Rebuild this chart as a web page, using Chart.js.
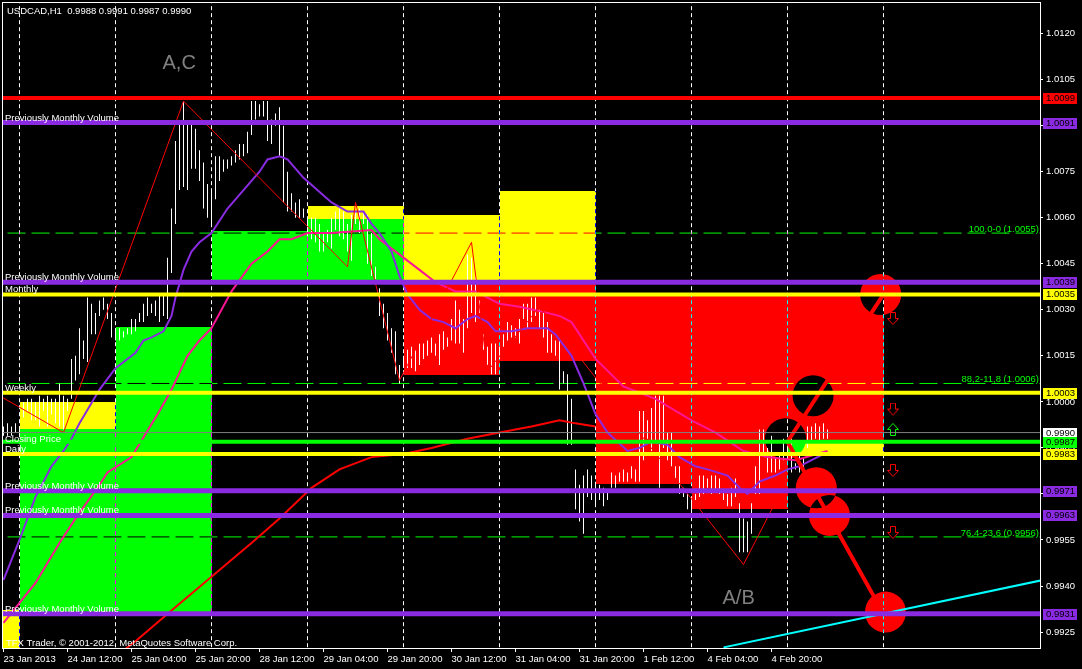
<!DOCTYPE html>
<html><head><meta charset="utf-8">
<script src="https://cdn.jsdelivr.net/npm/chart.js@4.4.1/dist/chart.umd.min.js"></script>
<style>html,body{margin:0;padding:0;background:#000;overflow:hidden}canvas{display:block}</style>
</head><body>
<canvas id="c" width="1082" height="669"></canvas>
<script>
// ---------- DATA ----------
const chartTitle = 'USDCAD,H1  0.9988 0.9991 0.9987 0.9990';
const copyrightText = 'TFX Trader, \u00A9 2001-2012, MetaQuotes Software Corp.';

const xTickIndex = [0,16,32,48,64,80,96,112,128,144,160,176,192];
const xTickLabels = ['23 Jan 2013','24 Jan 12:00','25 Jan 04:00','25 Jan 20:00','28 Jan 12:00','29 Jan 04:00','29 Jan 20:00','30 Jan 12:00','31 Jan 04:00','31 Jan 20:00','1 Feb 12:00','4 Feb 04:00','4 Feb 20:00'];
const yTickValues = [0.9925,0.9940,0.9955,0.9970,0.9985,1.0000,1.0015,1.0030,1.0045,1.0060,1.0075,1.0090,1.0105,1.0120];

// hourly bars (index 0 = 23 Jan 20:00)
const highs = [0.9992,0.9993,0.9992,0.9993,0.9992,1.0000,1.0001,1.0001,1.0000,1.0002,
1.0001,1.0002,1.0001,1.0001,1.0006,1.0002,1.0001,1.0014,1.0015,1.0024,
1.0020,1.0034,1.0032,1.0029,1.0033,1.0034,1.0032,1.0029,1.0024,1.0024,
1.0023,1.0024,1.0027,1.0027,1.0029,1.0032,1.0034,1.0032,1.0033,1.0035,
1.0035,1.0047,1.0063,1.0085,1.0091,1.0098,1.0091,1.0091,1.0089,1.0082,
1.0078,1.0071,1.0069,1.0080,1.0080,1.0079,1.0079,1.0080,1.0082,1.0084,
1.0084,1.0088,1.0098,1.0098,1.0097,1.0098,1.0098,1.0092,1.0094,1.0096,
1.0090,1.0075,1.0068,1.0065,1.0066,1.0063,1.0060,1.0060,1.0060,1.0058,
1.0055,1.0056,1.0060,1.0062,1.0063,1.0062,1.0058,1.0061,1.0062,1.0063,
1.0062,1.0061,1.0055,1.0044,1.0037,1.0032,1.0029,1.0024,1.0023,1.0012,
1.0015,1.0017,1.0018,1.0017,1.0019,1.0019,1.0020,1.0021,1.0019,1.0022,
1.0023,1.0021,1.0027,1.0033,1.0030,1.0027,1.0048,1.0047,1.0042,1.0033,
1.0022,1.0018,1.0019,1.0019,1.0018,1.0022,1.0026,1.0025,1.0024,1.0027,
1.0032,1.0032,1.0034,1.0034,1.0030,1.0029,1.0026,1.0022,1.0020,1.0020,
1.0010,1.0009,1.0001,0.9978,0.9973,0.9976,0.9978,0.9976,0.9974,0.9973,
0.9972,0.9971,0.9977,0.9976,0.9977,0.9978,0.9977,0.9979,0.9978,0.9997,
0.9997,0.9994,0.9998,1.0002,1.0002,1.0002,0.9990,0.9990,0.9979,0.9979,
0.9972,0.9970,0.9969,0.9970,0.9976,0.9976,0.9975,0.9976,0.9976,0.9975,
0.9971,0.9970,0.9972,0.9975,0.9967,0.9962,0.9961,0.9967,0.9979,0.9991,
0.9991,0.9985,0.9989,0.9982,0.9983,0.9988,0.9987,0.9989,0.9980,0.9983,
0.9982,0.9992,0.9992,0.9993,0.9992,0.9993,0.9991];
const lows = [0.9989,0.9989,0.9989,0.9990,0.9989,0.9995,0.9997,0.9994,0.9994,0.9992,
0.9997,0.9992,0.9996,0.9993,0.9992,0.9991,0.9997,1.0001,1.0007,1.0009,
1.0014,1.0013,1.0022,1.0022,1.0028,1.0030,1.0027,1.0021,1.0020,1.0020,
1.0021,1.0022,1.0022,1.0023,1.0026,1.0026,1.0028,1.0029,1.0028,1.0026,
1.0028,1.0027,1.0042,1.0058,1.0069,1.0070,1.0069,1.0076,1.0076,1.0072,
1.0063,1.0060,1.0057,1.0066,1.0072,1.0075,1.0076,1.0077,1.0078,1.0079,
1.0080,1.0081,1.0087,1.0092,1.0093,1.0093,1.0085,1.0084,1.0090,1.0080,
1.0065,1.0062,1.0062,1.0060,1.0060,1.0060,1.0054,1.0053,1.0052,1.0049,
1.0049,1.0052,1.0050,1.0056,1.0054,1.0053,1.0049,1.0046,1.0058,1.0055,
1.0058,1.0045,1.0041,1.0040,1.0028,1.0024,1.0020,1.0016,1.0009,1.0006,
1.0011,1.0011,1.0011,1.0010,1.0012,1.0014,1.0015,1.0016,1.0015,1.0012,
1.0017,1.0018,1.0020,1.0019,1.0019,1.0016,1.0024,1.0029,1.0026,1.0029,
1.0017,1.0012,1.0009,1.0009,1.0014,1.0018,1.0020,1.0021,1.0021,1.0019,
1.0027,1.0024,1.0026,1.0028,1.0024,1.0021,1.0016,1.0016,1.0015,1.0004,
1.0006,0.9986,0.9986,0.9965,0.9961,0.9957,0.9969,0.9968,0.9966,0.9968,
0.9966,0.9968,0.9972,0.9972,0.9974,0.9974,0.9974,0.9975,0.9974,0.9974,
0.9981,0.9988,0.9984,0.9987,0.9972,0.9985,0.9981,0.9979,0.9975,0.9970,
0.9969,0.9965,0.9964,0.9968,0.9969,0.9970,0.9972,0.9970,0.9971,0.9970,
0.9968,0.9966,0.9966,0.9969,0.9951,0.9951,0.9951,0.9957,0.9970,0.9970,
0.9983,0.9977,0.9977,0.9977,0.9978,0.9981,0.9981,0.9977,0.9978,0.9977,
0.9978,0.9985,0.9987,0.9988,0.9987,0.9988,0.9988];

// moving averages (bar index, value)
const maFastX = [0,4,8,10,12,15,17,19,24,28,33,35,37,40,42,43,45,47,49,52,56,60,64,66,69,71,75,82,86,90,92,94,97,99,101,104,107,110,113,116,118,121,123,127,131,136,138,142,145,148,151,156,159,162,166,169,173,176,181,184,186,189,193,196,199,202,205];
const maFastY = [0.9942,0.9955,0.9969,0.9974,0.9979,0.9984,0.9988,0.9993,1.0004,1.0011,1.0016,1.0020,1.0021,1.0023,1.0028,1.0034,1.0043,1.0049,1.0052,1.0055,1.0063,1.0069,1.0075,1.0079,1.0080,1.0079,1.0073,1.0065,1.0062,1.0062,1.0058,1.0055,1.0049,1.0041,1.0035,1.0030,1.0027,1.0026,1.0024,1.0027,1.0028,1.0026,1.0023,1.0023,1.0024,1.0024,1.0022,1.0015,1.0006,0.9996,0.9990,0.9984,0.9985,0.9987,0.9986,0.9982,0.9979,0.9978,0.9976,0.9972,0.9970,0.9974,0.9976,0.9978,0.9979,0.9981,0.9983];
const maSlowX = [0,8,14,18,24,26,32,39,42,46,49,52,57,62,66,69,72,76,82,92,94,100,104,108,113,118,121,124,129,136,139,142,148,155,163,172,178,185,191,198,206];
const maSlowY = [0.9928,0.9941,0.9954,0.9962,0.9973,0.9977,0.9982,0.9997,1.0004,1.0015,1.0020,1.0024,1.0036,1.0045,1.0049,1.0053,1.0053,1.0055,1.0055,1.0056,1.0053,1.0047,1.0043,1.0039,1.0036,1.0036,1.0034,1.0032,1.0031,1.0029,1.0028,1.0026,1.0014,1.0005,1.0001,0.9994,0.9990,0.9984,0.9982,0.9981,0.9984];
const maLongX = [30,33,42,52,62,69,77,84,92,100,107,116,124,132,139,143,148];
const maLongY = [0.9919,0.9922,0.9932,0.9943,0.9954,0.9962,0.9972,0.9978,0.9982,0.9983,0.9985,0.9988,0.9990,0.9992,0.9994,0.9993,0.9992];

// zigzag
const zigzagX = [-1,15,45,86,88,99,117,121,134,185,196];
const zigzagY = [1.0002,0.9990,1.0098,1.0044,1.0065,1.0007,1.0052,1.0010,1.0031,0.9947,0.9975];

// projection (thick red) and trend (cyan)
const projX = [220,196,220];
const projY = [1.0035,0.9987,0.9931];
const trendX = [180,260];
const trendY = [0.9920,0.9942];

// circles
const circleX = [219.3,202.4,195.5,203.2,206.5,220.5];
const circleY = [1.0035,1.0002,0.9988,0.9972,0.9963,0.99315];

// arrows
const arrowX = [222.5,222.5,222.5,222.5,222.5];
const arrowY = [1.0027,0.99975,0.99912,0.99775,0.99573];
const arrowDir = ['down','down','up','down','down'];

// day separators (bar index)
const separatorIdx = [4,28,52,76,100,124,148,172,196,220];

// daily zones
const zoneStart  = [-2,4,4,28,52,76,76,100,100,124,124,148,172,196,196];
const zoneEnd    = [4,28,28,52,76,100,100,124,124,148,148,172,196,220,220];
const zoneTop    = [0.99322,1.0000,0.99912,1.00244,1.00557,1.00638,1.00596,1.00609,1.0039,1.00687,1.0039,1.0035,1.0035,1.0035,0.99866];
const zoneBottom = [0.9900,0.99912,0.99316,0.99316,1.0039,1.00596,1.0039,1.0039,1.00089,1.0039,1.00134,0.99733,0.99651,0.99866,0.9983];
const zoneKind   = ['yellow','yellow','green','green','green','yellow','green','yellow','red','yellow','red','red','red','red','yellow'];

// horizontal levels
const levelPrices = [1.0099,1.0091,1.0039,1.0035,1.0003,0.9990,0.9987,0.9983,0.9971,0.9963,0.9931];
const levelKinds  = ['red','purple','purple','yellow','yellow','close','green','yellow','purple','purple','purple'];
const levelNames  = ['','Previously Monthly Volume','Previously Monthly Volume','Monthly','Weekly','Closing Price','','Daily','Previously Monthly Volume','Previously Monthly Volume','Previously Monthly Volume'];

// fibonacci levels
const fibPrices = [1.0055,1.0006,0.9956];
const fibLabels = ['100.0-0 (1.0055)','88,2-11,8 (1.0006)','76,4-23,6 (0.9956)'];

// big text marks
const markText = ['A,C','A/B'];
const markX = [39.75,179.75];
const markY = [1.01085,0.99342];

// ---------- STYLES ----------
const FONT = '"Liberation Sans", Arial, sans-serif';
const zoneColors = {green:'#00FF00', yellow:'#FFFF00', red:'#FF0000'};
const levelStyle = {
  red:{color:'#FF0000',width:4,box:'#FF0000'},
  purple:{color:'#8A2BE2',width:5,box:'#8A2BE2'},
  yellow:{color:'#FFFF00',width:4,box:'#FFFF00'},
  green:{color:'#00FF00',width:4,box:'#00FF00'},
  close:{color:'#808080',width:1,box:'#FFFFFF'}
};

function arrowImg(dir,color){
  const c=document.createElement('canvas'); c.width=13; c.height=14;
  const g=c.getContext('2d'); g.strokeStyle=color; g.lineWidth=1;
  if(dir==='up'){ g.translate(0,14); g.scale(1,-1); }
  g.beginPath();
  g.moveTo(3.5,0.5); g.lineTo(8.5,0.5); g.lineTo(8.5,6.5); g.lineTo(11.5,6.5);
  g.lineTo(6,12.5); g.lineTo(0.5,6.5); g.lineTo(3.5,6.5); g.closePath(); g.stroke();
  return c;
}

// ---------- DATASETS ----------
const pts = (xs,ys)=>xs.map((x,k)=>({x:x,y:ys[k]}));
const datasets = [];

const sepData=[]; separatorIdx.forEach(s=>{sepData.push({x:s,y:1.03},{x:s,y:0.98},{x:s,y:null});});
datasets.push({type:'line',data:sepData,borderColor:'#FFFFFF',borderWidth:1,borderDash:[4,3],pointRadius:0,spanGaps:false,blend:'difference',clip:0,order:95});

fibPrices.forEach(p=>datasets.push({type:'line',data:[{x:-5,y:p},{x:265,y:p}],borderColor:'#00FF00',borderWidth:1,borderDash:[18,6],pointRadius:0,blend:'difference',clip:0,order:90}));

datasets.push({type:'scatter',data:pts(circleX,circleY),pointRadius:20.5,pointBackgroundColor:'#FF0000',pointBorderWidth:0,blend:'difference',order:85});

datasets.push({type:'bar',data:highs.map((h,i)=>({x:i,y:[lows[i],h]})),backgroundColor:'#FFFFFF',barThickness:1,inflateAmount:0,borderWidth:0,order:80});

datasets.push({type:'line',data:pts(maLongX,maLongY),borderColor:'#FF0000',borderWidth:2,pointRadius:0,order:70});
datasets.push({type:'line',data:pts(maSlowX,maSlowY),borderColor:'#FF1493',borderWidth:2,pointRadius:0,order:69});
datasets.push({type:'line',data:pts(maFastX,maFastY),borderColor:'#8A2BE2',borderWidth:2,pointRadius:0,order:68});
datasets.push({type:'line',data:pts(zigzagX,zigzagY),borderColor:'#FF0000',borderWidth:1,pointRadius:0,order:67});
datasets.push({type:'line',data:pts(trendX,trendY),borderColor:'#00FFFF',borderWidth:2,pointRadius:0,clip:0,order:66});
datasets.push({type:'line',data:pts(projX,projY),borderColor:'#FF0000',borderWidth:4,pointRadius:0,order:65});

datasets.push({type:'scatter',data:pts(arrowX,arrowY),pointRadius:6,
  pointStyle:arrowDir.map(d=>arrowImg(d,d==='up'?'#00FF00':'#FF0000')),order:60});

levelPrices.forEach((p,k)=>{const st=levelStyle[levelKinds[k]];
  datasets.push({type:'line',data:[{x:-5,y:p},{x:265,y:p}],borderColor:st.color,borderWidth:st.width,pointRadius:0,clip:0,order:40});});

// ---------- PLUGINS ----------
const blendPlugin={id:'blend',
  beforeDatasetDraw(chart,args){const ds=chart.data.datasets[args.index]; if(ds.blend){chart.ctx.save();chart.ctx.globalCompositeOperation=ds.blend;}},
  afterDatasetDraw(chart,args){const ds=chart.data.datasets[args.index]; if(ds.blend){chart.ctx.restore();}}};

const bgPlugin={id:'bg',beforeDraw(chart){const c=chart.ctx;c.save();c.fillStyle='#000';c.fillRect(0,0,chart.width,chart.height);c.restore();}};

const zonePlugin={id:'zones',beforeDatasetsDraw(chart){
  const {ctx,chartArea:a,scales:{x,y}}=chart; ctx.save();
  ctx.beginPath(); ctx.rect(a.left,a.top,a.right-a.left,a.bottom-a.top); ctx.clip();
  zoneStart.forEach((s,k)=>{
    const x0=Math.round(x.getPixelForValue(s)), x1=Math.round(x.getPixelForValue(zoneEnd[k]));
    const y0=Math.round(y.getPixelForValue(zoneTop[k])), y1=Math.round(y.getPixelForValue(zoneBottom[k]));
    ctx.fillStyle=zoneColors[zoneKind[k]]; ctx.fillRect(x0,y0,x1-x0,y1-y0);
  });
  ctx.restore();}};

const textPlugin={id:'texts',
  afterDatasetsDraw(chart){
    const {ctx,chartArea:a,scales:{x,y}}=chart; ctx.save();
    ctx.font='9.5px '+FONT; ctx.textBaseline='alphabetic'; ctx.textAlign='left'; ctx.fillStyle='#FFFFFF';
    levelPrices.forEach((p,k)=>{ if(!levelNames[k]) return; const yy=y.getPixelForValue(p);
      ctx.fillText(levelNames[k], a.left+3, levelKinds[k]==='close'? yy+9 : yy-2); });
    ctx.fillStyle='#00FF00'; ctx.textAlign='right';
    fibPrices.forEach((p,k)=>{ ctx.fillText(fibLabels[k], a.right-1, y.getPixelForValue(p)-1); });
    ctx.textAlign='left'; ctx.fillStyle='#FFFFFF';
    ctx.fillText(chartTitle, 7, 14);
    ctx.fillText(copyrightText, 6, 646);
    ctx.font='20px '+FONT; ctx.fillStyle='#808080';
    markText.forEach((t,k)=>ctx.fillText(t, x.getPixelForValue(markX[k]), y.getPixelForValue(markY[k])));
    ctx.strokeStyle='#FFFFFF'; ctx.lineWidth=1;
    ctx.strokeRect(a.left+0.5, a.top+0.5, a.right-a.left, a.bottom-a.top);
    ctx.restore();
  },
  afterDraw(chart){
    const {ctx,chartArea:a,scales:{y}}=chart; ctx.save();
    ctx.font='9.5px '+FONT; ctx.textBaseline='middle'; ctx.textAlign='left';
    levelPrices.forEach((p,k)=>{ const st=levelStyle[levelKinds[k]]; const yy=Math.round(y.getPixelForValue(p));
      ctx.fillStyle=st.box; ctx.fillRect(a.right+3, yy-5, 34, 11);
      ctx.fillStyle='#000000'; ctx.fillText(p.toFixed(4), a.right+6, yy+0.5); });
    ctx.restore();
  }};

const zeroPad = (s)=>{s.paddingLeft=0;s.paddingRight=0;s.paddingTop=0;s.paddingBottom=0;};

new Chart(document.getElementById('c'),{
  type:'line',
  data:{datasets:datasets},
  options:{
    responsive:false, animation:false, devicePixelRatio:1, events:[],
    layout:{autoPadding:false,padding:{left:2,top:2,right:0,bottom:0}},
    plugins:{legend:{display:false},tooltip:{enabled:false}},
    scales:{
      x:{type:'linear',min:-0.375,max:259.125,offset:false,
        border:{display:false},
        grid:{display:true,drawOnChartArea:false,drawTicks:true,tickLength:4,color:'#FFFFFF',offset:false},
        afterBuildTicks:(s)=>{s.ticks=xTickIndex.map(v=>({value:v}));},
        afterFit:(s)=>{s.height=21;zeroPad(s);},
        ticks:{autoSkip:false,maxRotation:0,minRotation:0,align:'start',padding:2,color:'#FFFFFF',font:{family:'Liberation Sans',size:9.5},
          callback:(v,i)=>xTickLabels[i]}},
      y:{type:'linear',position:'right',min:0.99198,max:1.01303,
        border:{display:false},
        grid:{display:true,drawOnChartArea:false,drawTicks:true,tickLength:3,color:'#FFFFFF'},
        afterBuildTicks:(s)=>{s.ticks=yTickValues.map(v=>({value:v}));},
        afterFit:(s)=>{s.width=42;zeroPad(s);},
        ticks:{padding:3,color:'#FFFFFF',font:{family:'Liberation Sans',size:9.5},callback:(v)=>Number(v).toFixed(4)}}
    }
  },
  plugins:[bgPlugin,zonePlugin,blendPlugin,textPlugin]
});
</script>
</body></html>
